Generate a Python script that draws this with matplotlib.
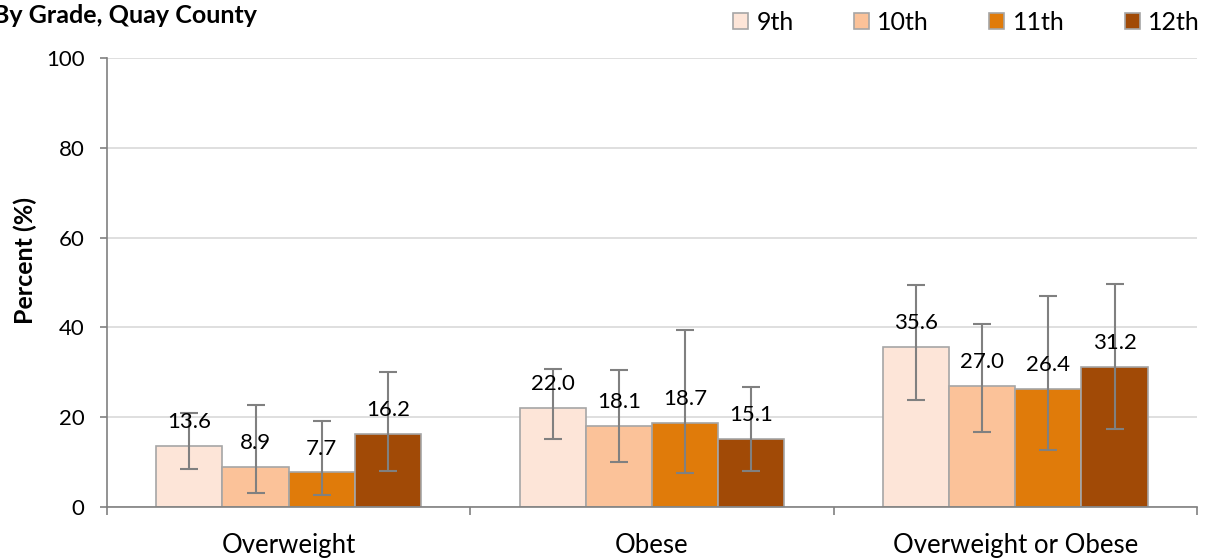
import matplotlib.pyplot as plt
import numpy as np

plt.rcParams['font.family'] = ['Lato', 'DejaVu Sans']

categories = ['Overweight', 'Obese', 'Overweight or Obese']
grades = ['9th', '10th', '11th', '12th']
values = [
    [13.6, 22.0, 35.6],
    [8.9, 18.1, 27.0],
    [7.7, 18.7, 26.4],
    [16.2, 15.1, 31.2],
]
ci_low = [
    [8.5, 15.1, 23.8],
    [3.1, 10.0, 16.6],
    [2.7, 7.6, 12.7],
    [8.1, 8.0, 17.3],
]
ci_high = [
    [21.0, 30.8, 49.4],
    [22.7, 30.5, 40.8],
    [19.1, 39.4, 47.1],
    [30.1, 26.7, 49.7],
]
colors = ['#FDE5D8', '#FBC299', '#E07B0A', '#A14A06']

fig = plt.figure(figsize=(12.07, 5.59), dpi=100)
ax = fig.add_axes([0.0886, 0.093, 0.9031, 0.803])

x = np.arange(len(categories))
width = 0.182
for i, g in enumerate(grades):
    pos = x + (i - 1.5) * width
    v = np.array(values[i])
    err = [v - np.array(ci_low[i]), np.array(ci_high[i]) - v]
    ax.bar(pos, v, width, color=colors[i], edgecolor='#A6A6A6', linewidth=1.2,
           label=g, zorder=2)
    ax.errorbar(pos, v, yerr=err, fmt='none', ecolor='#808080', elinewidth=1.5,
                capsize=6.5, capthick=1.5, zorder=3)
    # value labels above each bar
    for px, val in zip(pos, v):
        ax.annotate(f'{val:.1f}', (px, val), xytext=(0, 10), textcoords='offset points',
                    ha='center', va='bottom', fontsize=16, zorder=4)

ax.set_xlim(-0.5, 2.5)
ax.set_ylim(0, 100)
ax.set_yticks(range(0, 101, 20))
ax.yaxis.grid(True, color='#D9D9D9', linewidth=1.2, zorder=0)
ax.set_axisbelow(True)

ax.set_xticks(x)
ax.set_xticklabels(categories, fontsize=18.5)
ax.tick_params(axis='x', length=0, pad=19)
ax.set_xticks([-0.5, 0.5, 1.5, 2.5], minor=True)
ax.tick_params(axis='x', which='minor', length=6, color='#808080', width=1.2)
ax.tick_params(axis='y', labelsize=16, length=5, color='#808080', width=1.2, pad=11)

for s in ['top', 'right']:
    ax.spines[s].set_visible(False)
for s in ['left', 'bottom']:
    ax.spines[s].set_color('#808080')
    ax.spines[s].set_linewidth(1.2)

ax.set_ylabel('Percent (%)', fontsize=18, fontweight='bold', va='center')
ax.yaxis.set_label_coords(-0.075, 0.55)

fig.text(-0.006, 0.973, 'By Grade, Quay County', fontsize=18, fontweight='bold',
         ha='left', va='center')

ax.legend(loc='upper right', bbox_to_anchor=(1.019, 1.144), ncol=4, frameon=False,
          fontsize=18, handlelength=0.6, handleheight=0.6, columnspacing=2.4,
          handletextpad=0.35, borderpad=0.2)

fig.savefig('out.png', dpi=100)
